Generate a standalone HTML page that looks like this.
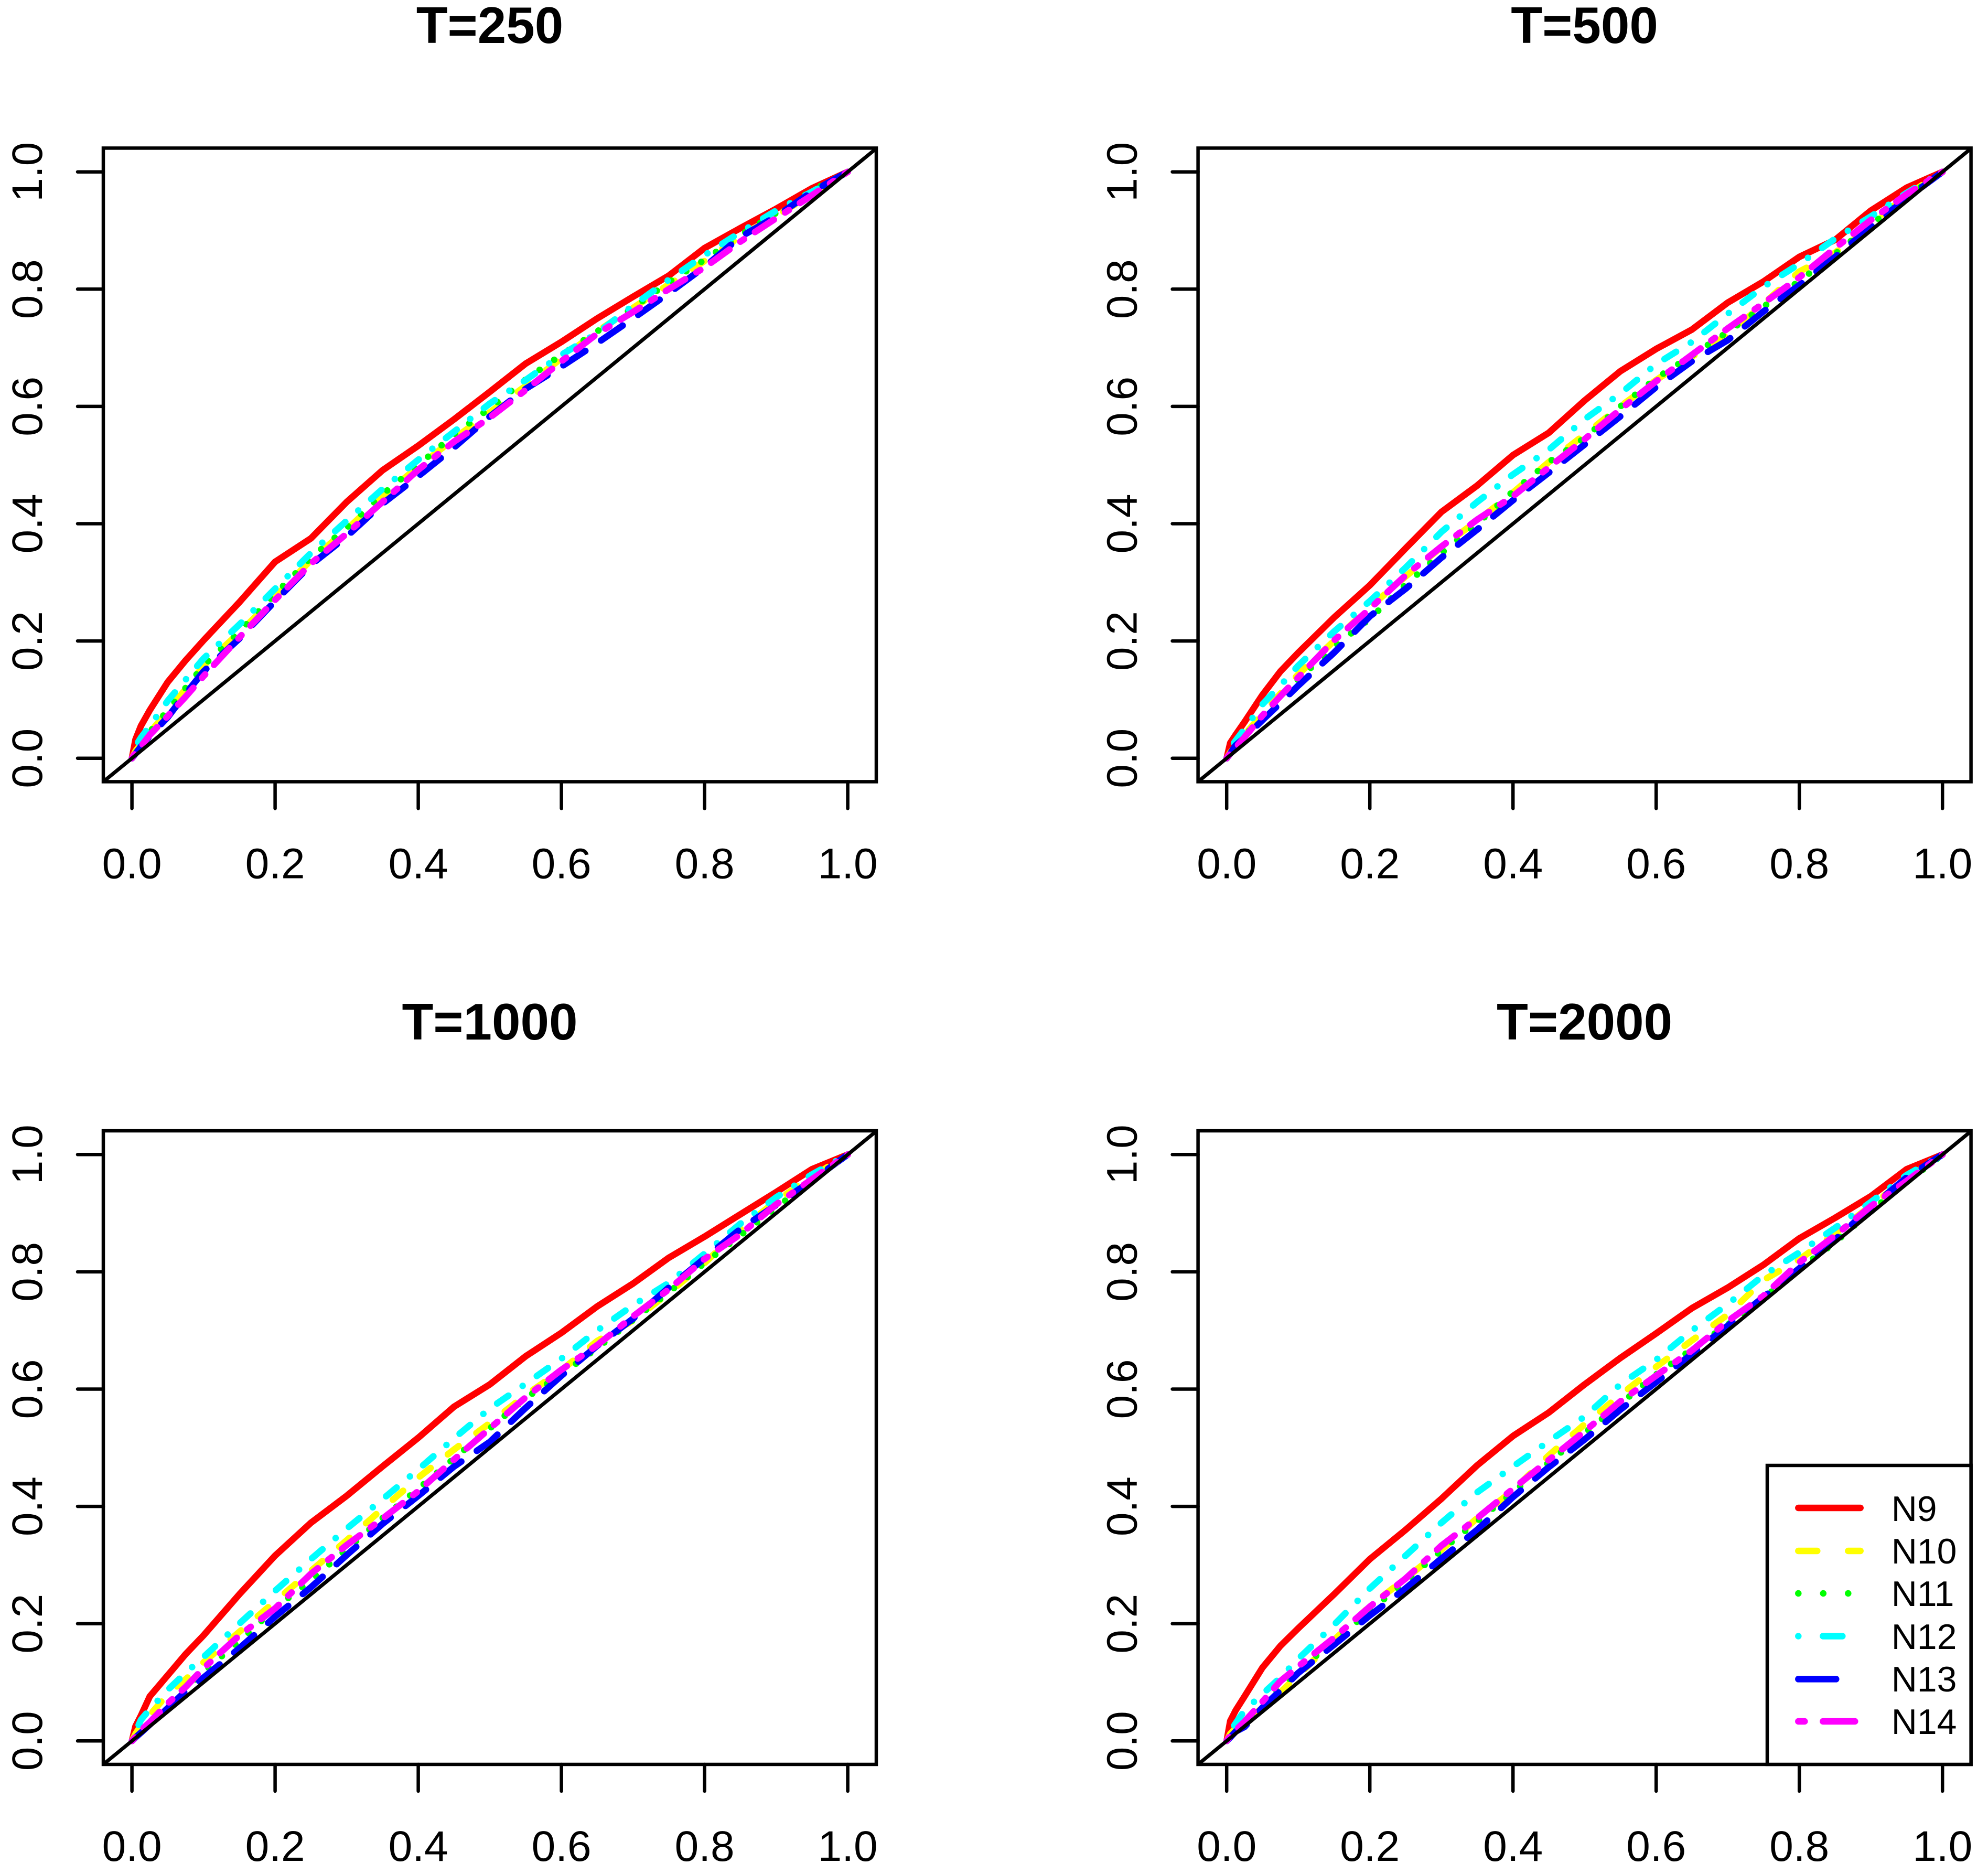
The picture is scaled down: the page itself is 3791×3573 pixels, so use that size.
<!DOCTYPE html>
<html lang="en">
<head>
<meta charset="utf-8">
<title>T panels</title>
<style>
html,body{margin:0;padding:0;background:#fff;}
svg{display:block;}
text{font-family:"Liberation Sans",Arial,sans-serif;fill:#000;}
.title{font-size:98px;font-weight:bold;text-anchor:middle;}
.tick{font-size:82px;text-anchor:middle;}
.leg{font-size:68px;}
</style>
</head>
<body>
<svg id="chart" xmlns="http://www.w3.org/2000/svg" width="3791" height="3573" viewBox="0 0 3791 3573">
<rect x="0" y="0" width="3791" height="3573" fill="#fff"/>
<text class="title" x="934" y="82">T=250</text>
<text class="title" x="3021.6" y="82">T=500</text>
<text class="title" x="934" y="1982">T=1000</text>
<text class="title" x="3021.6" y="1982">T=2000</text>
<g id="panels"></g>
<g id="legend">
<rect x="3370" y="2794" width="388.6" height="570" fill="#fff" stroke="#000" stroke-width="6.5"/>
<g>
<line x1="3429.3" x2="3547.7" y1="2875" y2="2875" stroke="#ff0000" stroke-width="12.5" stroke-linecap="round"/>
<text class="leg" x="3606.7" y="2900">N9</text>
</g>
<g>
<line x1="3429.3" x2="3547.7" y1="2957" y2="2957" stroke="#ffff00" stroke-width="12.5" stroke-linecap="round" stroke-dasharray="36 59"/>
<text class="leg" x="3606.7" y="2981">N10</text>
</g>
<g>
<line x1="3429.3" x2="3547.7" y1="3038" y2="3038" stroke="#00ff00" stroke-width="12.5" stroke-linecap="round" stroke-dasharray="0.01 47.5"/>
<text class="leg" x="3606.7" y="3062">N11</text>
</g>
<g>
<line x1="3429.3" x2="3547.7" y1="3119.5" y2="3119.5" stroke="#00ffff" stroke-width="12.5" stroke-linecap="round" stroke-dasharray="0.01 47 37 47"/>
<text class="leg" x="3606.7" y="3144">N12</text>
</g>
<g>
<line x1="3429.3" x2="3547.7" y1="3201.4" y2="3201.4" stroke="#0000ff" stroke-width="12.5" stroke-linecap="round" stroke-dasharray="72 60"/>
<text class="leg" x="3606.7" y="3225">N13</text>
</g>
<g>
<line x1="3429.3" x2="3547.7" y1="3282" y2="3282" stroke="#ff00ff" stroke-width="12.5" stroke-linecap="round" stroke-dasharray="12 35 61 36"/>
<text class="leg" x="3606.7" y="3306">N14</text>
</g>
</g>
</svg>
<script>
const tickValues=[0,0.2,0.4,0.6,0.8,1];
const tickLabels=["0.0","0.2","0.4","0.6","0.8","1.0"];
const xGrid=[0,.005,.0125,.025,.05,.075,.1,.15,.2,.25,.3,.35,.4,.45,.5,.55,.6,.65,.7,.75,.8,.85,.9,.95,1];

const t250N9=[0,.032,.055,.082,.130,.167,.201,.266,.335,.375,.437,.491,.533,.578,.625,.673,.71,.75,.787,.823,.87,.904,.937,.972,1];
const t250N10=[0,.012,.024,.044,.08,.118,.158,.214,.275,.338,.39,.447,.497,.545,.59,.635,.682,.728,.768,.808,.848,.89,.925,.962,1];
const t250N11=[0,.012,.024,.045,.082,.12,.158,.216,.28,.342,.393,.45,.5,.552,.597,.646,.688,.728,.768,.812,.85,.892,.93,.968,1];
const t250N12=[0,.02,.035,.055,.098,.134,.17,.228,.289,.35,.405,.459,.509,.557,.605,.645,.688,.725,.772,.816,.858,.897,.934,.966,1];
const t250N13=[0,.008,.02,.038,.07,.11,.148,.204,.268,.33,.378,.434,.481,.53,.583,.63,.668,.708,.75,.793,.838,.889,.924,.966,1];
const t250N14=[0,.01,.02,.04,.072,.105,.14,.206,.27,.332,.383,.437,.492,.54,.581,.628,.677,.724,.761,.80,.837,.881,.921,.96,1];

const t500N9=[0,.026,.04,.062,.108,.148,.18,.24,.295,.358,.42,.465,.517,.555,.61,.66,.698,.731,.777,.813,.855,.884,.934,.973,1];
const t500N10=[0,.01,.02,.04,.076,.11,.143,.2,.258,.31,.36,.405,.453,.505,.552,.6,.645,.685,.722,.775,.83,.862,.912,.96,1];
const t500N11=[0,.009,.02,.038,.072,.105,.135,.19,.238,.296,.35,.4,.455,.505,.546,.6,.648,.687,.727,.77,.814,.86,.91,.957,1];
const t500N12=[0,.018,.03,.05,.092,.124,.158,.216,.268,.325,.386,.437,.484,.526,.578,.622,.672,.71,.758,.804,.843,.886,.924,.964,1];
const t500N13=[0,.008,.022,.035,.065,.094,.124,.18,.242,.289,.342,.39,.44,.487,.535,.583,.633,.677,.713,.762,.807,.855,.906,.955,1];
const t500N14=[0,.008,.018,.036,.073,.106,.138,.201,.255,.312,.361,.407,.447,.496,.544,.595,.643,.688,.733,.776,.82,.87,.918,.962,1];

const t1000N9=[0,.025,.043,.076,.112,.148,.18,.25,.316,.372,.418,.468,.517,.57,.608,.656,.696,.741,.78,.824,.86,.898,.936,.975,1];
const t1000N10=[0,.012,.026,.044,.08,.105,.134,.186,.238,.29,.342,.396,.449,.497,.542,.59,.632,.682,.717,.764,.815,.872,.921,.962,1];
const t1000N11=[0,.007,.017,.03,.06,.09,.118,.17,.226,.274,.327,.38,.43,.482,.533,.585,.625,.67,.718,.765,.815,.862,.91,.955,1];
const t1000N12=[0,.015,.036,.054,.087,.116,.143,.2,.256,.31,.362,.412,.463,.516,.567,.609,.652,.70,.743,.781,.831,.882,.927,.966,1];
const t1000N13=[0,.006,.014,.028,.056,.085,.108,.158,.212,.262,.317,.37,.418,.468,.51,.568,.623,.674,.72,.773,.823,.873,.914,.956,1];
const t1000N14=[0,.007,.018,.032,.064,.092,.124,.18,.226,.285,.334,.379,.426,.48,.533,.586,.633,.675,.724,.77,.822,.864,.915,.958,1];

const t2000N9=[0,.034,.052,.076,.125,.162,.192,.25,.31,.36,.413,.47,.52,.56,.608,.653,.695,.738,.773,.812,.857,.892,.929,.975,1];
const t2000N10=[0,.012,.022,.034,.056,.083,.112,.172,.23,.277,.326,.38,.427,.487,.54,.59,.638,.683,.727,.786,.821,.865,.913,.959,1];
const t2000N11=[0,.008,.017,.03,.06,.092,.12,.17,.222,.272,.325,.375,.424,.475,.525,.575,.625,.668,.71,.755,.805,.85,.904,.953,1];
const t2000N12=[0,.016,.03,.052,.08,.108,.14,.198,.26,.316,.372,.424,.468,.511,.553,.608,.65,.70,.745,.794,.833,.875,.919,.965,1];
const t2000N13=[0,.006,.016,.024,.057,.086,.116,.164,.214,.26,.311,.36,.416,.467,.514,.565,.612,.66,.708,.757,.806,.855,.91,.961,1];
const t2000N14=[0,.009,.018,.033,.067,.102,.127,.176,.229,.277,.333,.38,.43,.479,.528,.579,.623,.666,.716,.759,.816,.862,.912,.955,1];

const panelNames=["t250","t500","t1000","t2000"];
const seriesNames=["n9","n10","n11","n12","n13","n14"];
const panelSeries=[
  [t250N9,t250N10,t250N11,t250N12,t250N13,t250N14],
  [t500N9,t500N10,t500N11,t500N12,t500N13,t500N14],
  [t1000N9,t1000N10,t1000N11,t1000N12,t1000N13,t1000N14],
  [t2000N9,t2000N10,t2000N11,t2000N12,t2000N13,t2000N14]
];

const SVGNS="http://www.w3.org/2000/svg";
const seriesColor=["#ff0000","#ffff00","#00ff00","#00ffff","#0000ff","#ff00ff"];
const seriesDash=["none","26 42","0.01 33.7","0.01 33 26 33","50 36","8.5 25 43 25.5"];
const PLOT_W=1474, PLOT_H=1208, X_UNIT=1365, Y_UNIT=1118;

function boxLeft(col){ return col===0 ? 197 : 2284.6; }
function boxBottom(row){ return row===0 ? 1490.4 : 3364; }
function xScale(col,v){ return boxLeft(col)+54.6+X_UNIT*v; }
function yScale(row,v){ return boxBottom(row)-44.7-Y_UNIT*v; }

function make(tag,parent){
  const el=document.createElementNS(SVGNS,tag);
  parent.appendChild(el);
  return el;
}

function drawPanel(index){
  const col=index%2, row=Math.floor(index/2);
  const root=document.getElementById('panels');
  const g=make('g',root);
  
  

  const left=boxLeft(col), bottom=boxBottom(row), top=bottom-PLOT_H;

  const clip=make('clipPath',g);
  clip.setAttribute('id','clip-'+index);
  const clipRect=make('rect',clip);
  clipRect.setAttribute('x',left);
  clipRect.setAttribute('y',top);
  clipRect.setAttribute('width',PLOT_W);
  clipRect.setAttribute('height',PLOT_H);

  panelSeries[index].forEach(function(values,s){
    const d=values.map(function(v,i){
      return (i?'L':'M')+xScale(col,xGrid[i]).toFixed(1)+' '+yScale(row,v).toFixed(1);
    }).join('');
    const p=make('path',g);
    
    
    p.setAttribute('d',d);
    p.setAttribute('fill','none');
    p.setAttribute('stroke',seriesColor[s]);
    p.setAttribute('stroke-width','12.5');
    p.setAttribute('stroke-linecap','round');
    p.setAttribute('stroke-linejoin','round');
    if(seriesDash[s]!=='none'){ p.setAttribute('stroke-dasharray',seriesDash[s]); }
  });

  const diag=make('line',g);
  
  
  diag.setAttribute('x1',xScale(col,-0.04));
  diag.setAttribute('y1',yScale(row,-0.04));
  diag.setAttribute('x2',xScale(col,1.04));
  diag.setAttribute('y2',yScale(row,1.04));
  diag.setAttribute('stroke','#000');
  diag.setAttribute('stroke-width','7');
  diag.setAttribute('clip-path','url(#clip-'+index+')');

  const box=make('rect',g);
  
  
  box.setAttribute('x',left);
  box.setAttribute('y',top);
  box.setAttribute('width',PLOT_W);
  box.setAttribute('height',PLOT_H);
  box.setAttribute('fill','none');
  box.setAttribute('stroke','#000');
  box.setAttribute('stroke-width','6.5');

  tickValues.forEach(function(v,i){
    const tx=make('line',g);
    
    
    tx.setAttribute('x1',xScale(col,v));
    tx.setAttribute('x2',xScale(col,v));
    tx.setAttribute('y1',bottom);
    tx.setAttribute('y2',bottom+51);
    tx.setAttribute('stroke','#000');
    tx.setAttribute('stroke-width','6.5');
    tx.setAttribute('stroke-linecap','round');

    const lx=make('text',g);
    
    
    lx.setAttribute('class','tick');
    lx.setAttribute('x',xScale(col,v));
    lx.setAttribute('y',bottom+184);
    lx.textContent=tickLabels[i];

    const ty=make('line',g);
    
    
    ty.setAttribute('x1',left);
    ty.setAttribute('x2',left-49);
    ty.setAttribute('y1',yScale(row,v));
    ty.setAttribute('y2',yScale(row,v));
    ty.setAttribute('stroke','#000');
    ty.setAttribute('stroke-width','6.5');
    ty.setAttribute('stroke-linecap','round');

    const ly=make('text',g);
    
    
    ly.setAttribute('class','tick');
    ly.setAttribute('transform','translate('+(left-117)+' '+yScale(row,v)+') rotate(-90)');
    ly.textContent=tickLabels[i];
  });
}

[0,1,2,3].forEach(drawPanel);
</script>
</body>
</html>
